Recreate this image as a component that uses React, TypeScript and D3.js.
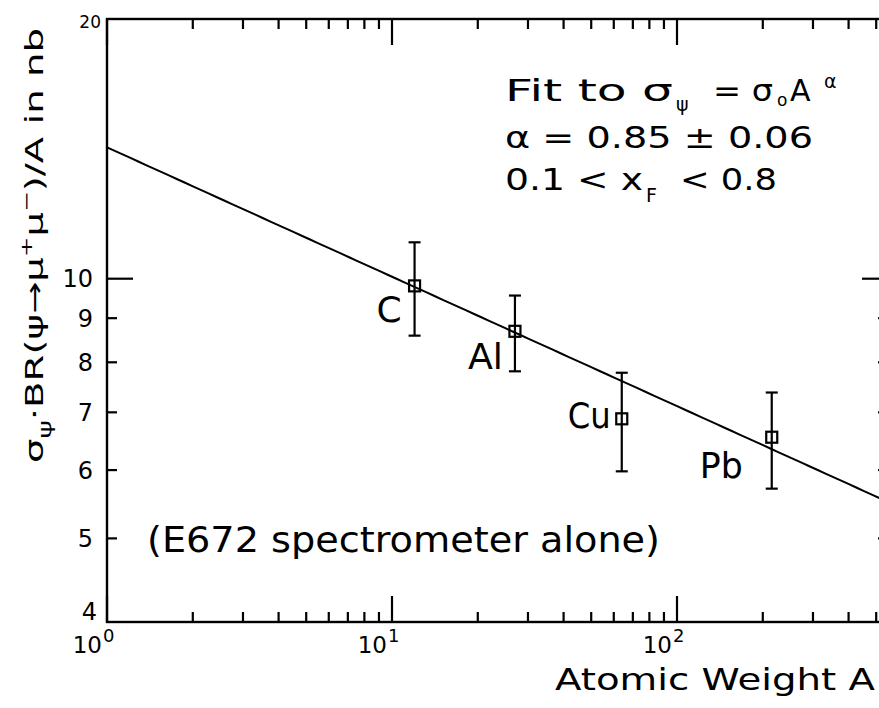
import * as d3 from 'd3';

// measured cross sections, sigma*BR/A in nb
const elements = ['C', 'Al', 'Cu', 'Pb'];
const atomicWeight = [12, 27, 64, 215];
const sigmaOverA = [9.81, 8.69, 6.88, 6.55];
const errHigh = [11.02, 9.56, 7.78, 7.38];
const errLow = [8.59, 7.81, 5.98, 5.71];

// fit sigma = sigma0 * A^alpha  ->  sigma/A = sigma0 * A^(alpha - 1)
const sigma0 = 14.2;
const alpha = 0.85;

const xMajorTicks = [1, 10, 100];
const xMajorExp = ['0', '1', '2'];
const xMinorTicks = [2, 3, 4, 5, 6, 7, 8, 9, 20, 30, 40, 50, 60, 70, 80, 90, 200, 300, 400, 500];
const yMajorTicks = [10];
const yMinorTicks = [5, 6, 7, 8, 9];
const yTickLabels = ['5', '6', '7', '8', '9', '10'];

// label nudges relative to each point (end anchor)
const labelDx = [-13, -12, -11, -29];
const labelDy = [36, 38, 9, 41];

const W = 879;
const H = 708;
const FONT = 'DejaVu Sans, sans-serif';

const x = d3.scaleLog().domain([1, 550]).range([107, 888]);
const y = d3.scaleLog().domain([4, 20]).range([622, 19]);

const App = () => {
  const [left, right] = x.range();
  const [bottom, top] = y.range();
  const fitLine = d3.line<number>()
    .x(a => x(a))
    .y(a => y(sigma0 * Math.pow(a, alpha - 1)));
  const fitPts = d3.range(0, 101).map(i => Math.pow(10, (i / 100) * Math.log10(550)));

  const majLen = 26;
  const minLen = 10;
  const sq = 11;
  const cap = 6;

  return (
    <svg width={W} height={H} style={{ position: 'absolute', left: 0, top: 0, background: '#fff' }}
      fontFamily={FONT}>
      <rect width={W} height={H} fill="#fff" />

      {/* frame */}
      <rect x={left} y={top} width={right - left} height={bottom - top}
        fill="none" stroke="#000" strokeWidth={2.4} />

      {/* x ticks: bottom point up, top point down */}
      <g fill="#000">
        {xMajorTicks.map(t => (
          <rect key={'xmb' + t} x={x(t) - 1.1} y={bottom - majLen} width={2.2} height={majLen} />
        ))}
        {xMajorTicks.map(t => (
          <rect key={'xmt' + t} x={x(t) - 1.1} y={top} width={2.2} height={majLen} />
        ))}
        {xMinorTicks.map(t => (
          <rect key={'xnb' + t} x={x(t) - 1.1} y={bottom - minLen} width={2.2} height={minLen} />
        ))}
        {xMinorTicks.map(t => (
          <rect key={'xnt' + t} x={x(t) - 1.1} y={top} width={2.2} height={minLen} />
        ))}

        {/* y ticks, left and right */}
        {yMajorTicks.map(t => (
          <rect key={'yml' + t} x={left} y={y(t) - 1.1} width={majLen} height={2.2} />
        ))}
        {yMajorTicks.map(t => (
          <rect key={'ymr' + t} x={right - majLen} y={y(t) - 1.1} width={majLen} height={2.2} />
        ))}
        {yMinorTicks.map(t => (
          <rect key={'ynl' + t} x={left} y={y(t) - 1.1} width={minLen} height={2.2} />
        ))}
        {yMinorTicks.map(t => (
          <rect key={'ynr' + t} x={right - minLen} y={y(t) - 1.1} width={minLen} height={2.2} />
        ))}
      </g>

      {/* y tick labels */}
      <g fontSize={24} textAnchor="end" fill="#000">
        {yTickLabels.map(l => (
          <text key={'yl' + l} x={93} y={y(+l) + 8.5}>{l}</text>
        ))}
        <text x={101} y={28} fontSize={17}>20</text>
        <text x={97} y={620}>4</text>
      </g>

      {/* x tick labels 10^n */}
      <g fill="#000">
        {xMajorTicks.map((t, i) => (
          <g key={'xl' + t}>
            <text x={x(t) - 5} y={653} fontSize={23} textAnchor="end">10</text>
            <text x={x(t) - 4} y={642} fontSize={18}>{xMajorExp[i]}</text>
          </g>
        ))}
      </g>

      {/* fit line */}
      <path d={fitLine(fitPts) || ''} fill="none" stroke="#000" strokeWidth={2} />

      {/* data points */}
      <g stroke="#000" strokeWidth={2.2} fill="none">
        {elements.map((el, i) => {
          const px = x(atomicWeight[i]);
          return (
            <g key={el}>
              <line x1={px} x2={px} y1={y(errHigh[i])} y2={y(errLow[i])} />
              <line x1={px - cap} x2={px + cap} y1={y(errHigh[i])} y2={y(errHigh[i])} />
              <line x1={px - cap} x2={px + cap} y1={y(errLow[i])} y2={y(errLow[i])} />
              <rect x={px - sq / 2} y={y(sigmaOverA[i]) - sq / 2} width={sq} height={sq} />
            </g>
          );
        })}
      </g>
      <g fill="#000" fontSize={36} textAnchor="end">
        {elements.map((el, i) => (
          <text key={'lb' + el} x={x(atomicWeight[i]) + labelDx[i]} y={y(sigmaOverA[i]) + labelDy[i]}
            textLength={el.length > 1 ? (el === 'Al' ? 35 : 43) : undefined}
            lengthAdjust="spacingAndGlyphs">{el}</text>
        ))}
      </g>

      {/* fit annotation */}
      <g fill="#000" fontSize={30}>
        <text x={505} y={101} textLength={168} lengthAdjust="spacingAndGlyphs">Fit to σ</text>
        <text x={676} y={111} fontSize={19}>ψ</text>
        <text x={713} y={101} textLength={60} lengthAdjust="spacingAndGlyphs">= σ</text>
        <text x={777} y={106} fontSize={17}>o</text>
        <text x={790} y={101}>A</text>
        <text x={824} y={88} fontSize={19}>α</text>

        <text x={505} y={148} textLength={308} lengthAdjust="spacingAndGlyphs">α = 0.85 ± 0.06</text>

        <text x={505} y={190} textLength={138} lengthAdjust="spacingAndGlyphs">0.1 &lt; x</text>
        <text x={646} y={202} fontSize={19}>F</text>
        <text x={680} y={190} textLength={97} lengthAdjust="spacingAndGlyphs">&lt; 0.8</text>
      </g>

      <text x={147} y={552} fontSize={35} textLength={513} lengthAdjust="spacingAndGlyphs" fill="#000">
        (E672 spectrometer alone)
      </text>

      <text x={555} y={690} fontSize={30} textLength={320} lengthAdjust="spacingAndGlyphs" fill="#000">
        Atomic Weight A
      </text>

      {/* y axis title */}
      <text transform="translate(43,463) rotate(-90)" fontSize={25} fill="#000"
        textLength={435} lengthAdjust="spacingAndGlyphs">
        σ<tspan fontSize={18} dy={8}>ψ</tspan>
        <tspan dy={-8}>·BR(ψ→μ</tspan>
        <tspan fontSize={16} dy={-11}>+</tspan>
        <tspan dy={11}>μ</tspan>
        <tspan fontSize={16} dy={-11}>−</tspan>
        <tspan dy={11}>)/A in nb</tspan>
      </text>
    </svg>
  );
};

export default App;
